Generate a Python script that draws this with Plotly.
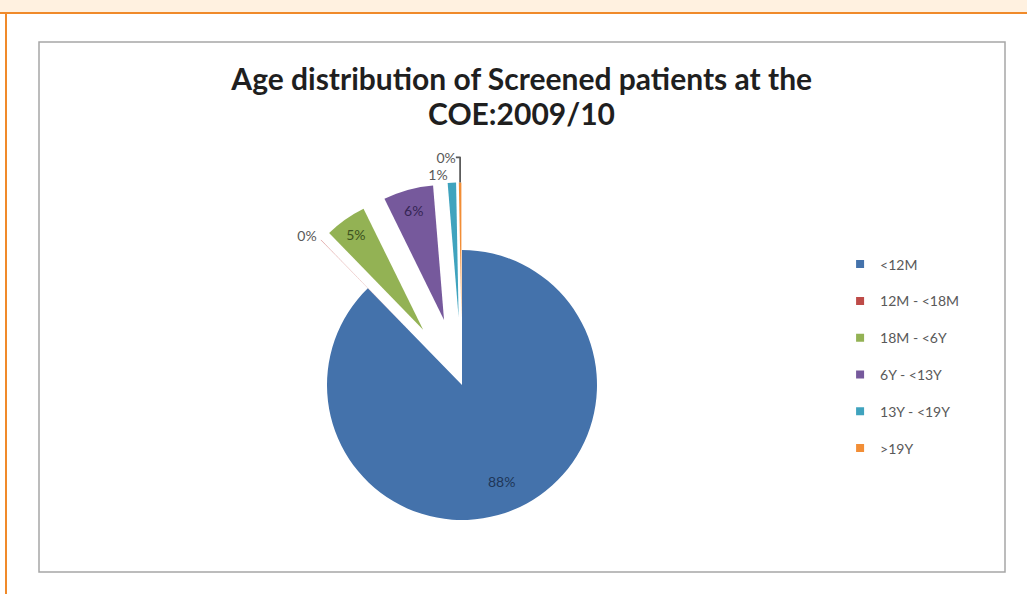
import math
import plotly.graph_objects as go

# ---- data ----
categories = ["<12M", "12M - <18M", "18M - <6Y", "6Y - <13Y", "13Y - <19Y", ">19Y"]
values = [88.0, 0.03, 5.0, 6.0, 1.0, 0.3]
colors = ["#4472AB", "#BE4B48", "#93B254", "#76599C", "#3FA3BE", "#F28E36"]
pulls = [0, 0.5, 0.5, 0.5, 0.5, 0.5]
text_positions = ["none", "outside", "inside", "inside", "outside", "outside"]
inside_colors = ["#1E3658", "#595959", "#3C5220", "#352554", "#595959", "#595959"]

title_line1 = "Age distribution of Screened patients at the"
title_line2 = "COE:2009/10"

FONT = "Lato"
W, H = 1027, 594

# pie placement (pixels)
CX, CY, R = 462, 385, 135
MAXPULL = max(pulls)
HALF = R * (1 + MAXPULL)

fig = go.Figure()

fig.add_trace(go.Pie(
    labels=categories,
    values=values,
    sort=False,
    direction="clockwise",
    rotation=0,
    pull=pulls,
    marker=dict(colors=colors, line=dict(width=0)),
    texttemplate="%{percent:.0%}",
    textposition=text_positions,
    textfont=dict(family=FONT, size=14, color=inside_colors),
    outsidetextfont=dict(family=FONT, size=14, color="#595959"),
    insidetextorientation="horizontal",
    showlegend=False,
    domain=dict(x=[(CX - HALF) / W, (CX + HALF) / W],
                y=[1 - (CY + HALF) / H, 1 - (CY - HALF) / H]),
    hoverinfo="label+percent",
))

# label of the big slice, placed further out along its bisector
total = sum(values)
mid_angle = math.radians(0.5 * values[0] / total * 360)
lx = CX + 0.77 * R * math.sin(mid_angle)
ly = CY - 0.77 * R * math.cos(mid_angle)
big_label = f"{round(100 * values[0] / total)}%"

# legend entries, one group each so the spacing can be opened up
for cat, col in zip(categories, colors):
    fig.add_trace(go.Scatter(
        x=[None], y=[None], mode="markers", name=cat,
        legendgroup=cat,
        marker=dict(symbol="square", size=8, color=col),
    ))

fig.update_layout(
    width=W, height=H, autosize=False,
    margin=dict(l=0, r=0, t=0, b=0, pad=0, autoexpand=False),
    paper_bgcolor="white",
    plot_bgcolor="rgba(0,0,0,0)",
    xaxis=dict(visible=False),
    yaxis=dict(visible=False),
    title=dict(
        text="<b>" + title_line1 + "</b>",
        x=0.508, xanchor="center",
        yref="container", y=1 - 79 / H, yanchor="middle",
        font=dict(family=FONT, size=30, color="#1F1F1F"),
    ),
    annotations=[
        dict(text="<b>" + title_line2 + "</b>", xref="paper", yref="paper",
             x=0.508, y=1 - 113 / H, xanchor="center", yanchor="middle",
             showarrow=False, font=dict(family=FONT, size=30, color="#1F1F1F")),
        dict(text=big_label, xref="paper", yref="paper",
             x=lx / W, y=1 - ly / H, xanchor="center", yanchor="middle",
             showarrow=False, font=dict(family=FONT, size=14, color=inside_colors[0])),
    ],
    legend=dict(
        x=0.818, y=1 - 248.5 / H, xanchor="left", yanchor="top",
        font=dict(family=FONT, size=14, color="#595959"),
        tracegroupgap=15.6,
        bgcolor="rgba(0,0,0,0)",
        itemclick=False,
    ),
    shapes=[
        # peach band at top
        dict(type="rect", xref="paper", yref="paper", x0=0, x1=1, y0=1 - 12 / H, y1=1,
             fillcolor="#FFF1E0", line=dict(width=0), layer="below"),
        # orange top rule
        dict(type="line", xref="paper", yref="paper", x0=0, x1=1, y0=1 - 13 / H, y1=1 - 13 / H,
             line=dict(color="#F08A2A", width=2)),
        # orange left rule
        dict(type="line", xref="paper", yref="paper", x0=6 / W, x1=6 / W, y0=0, y1=1 - 13 / H,
             line=dict(color="#F08A2A", width=2)),
        # gray chart frame
        dict(type="rect", xref="paper", yref="paper",
             x0=39 / W, x1=1005 / W, y0=1 - 572 / H, y1=1 - 42 / H,
             line=dict(color="#A6A6A6", width=1.5), layer="below"),
    ],
)

fig.write_html("out.html", config={"responsive": False, "displayModeBar": False},
               post_script="document.body.style.margin='0';")
